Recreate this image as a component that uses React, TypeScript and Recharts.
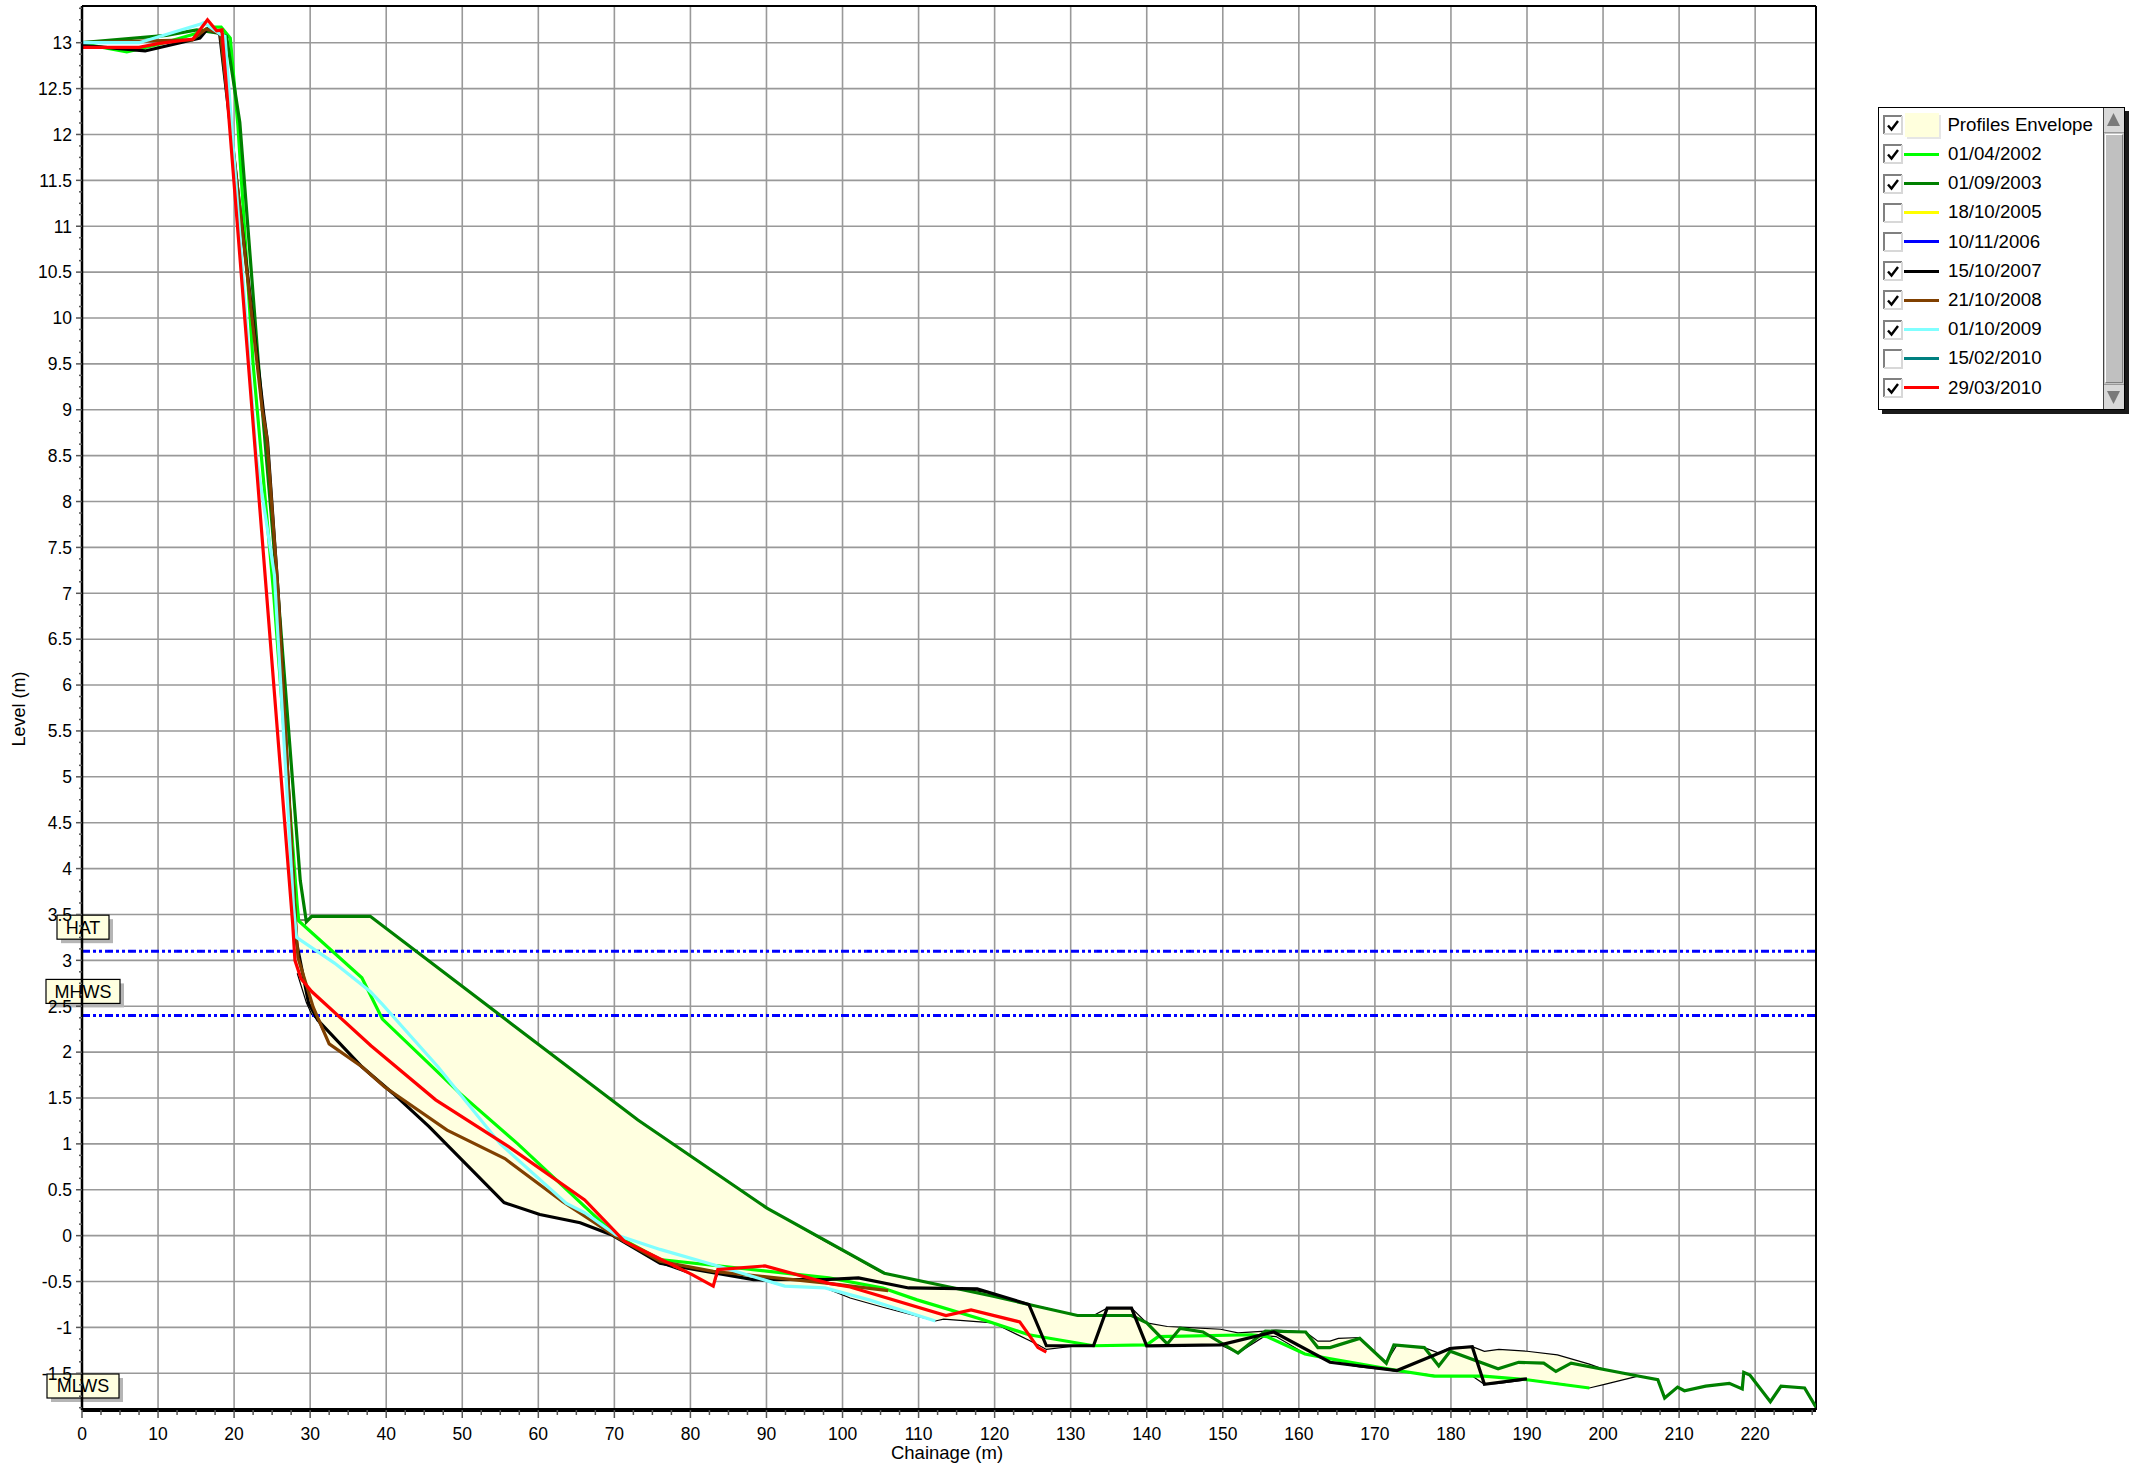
import React from 'react';
import { ComposedChart, Line, Area, XAxis, YAxis, CartesianGrid, ReferenceLine } from 'recharts';

const FONT = '"Liberation Sans", Arial, Helvetica, sans-serif';
const W = 2145;
const H = 1468;

// ---------- profile data (chainage m, level m) ----------
const chainage2002 = [0, 5.9, 10, 15, 17, 18.3, 19.5, 20.5, 22.5, 25.2, 28.3, 28.5, 36.8, 39.5, 49.7, 57.3, 70.2, 76, 98.2, 105.3, 109.8, 118.6, 124.5, 133, 140, 141.5, 153.8, 155.8, 160.8, 164, 173, 177.8, 184.3, 190, 198.2];
const level2002 = [12.99, 12.9, 12.98, 13.1, 13.17, 13.17, 13.05, 12.1, 9.5, 7.0, 3.6, 3.43, 2.81, 2.36, 1.55, 1.0, 0.0, -0.26, -0.46, -0.57, -0.7, -0.92, -1.08, -1.2, -1.19, -1.1, -1.08, -1.1, -1.29, -1.34, -1.47, -1.53, -1.53, -1.57, -1.66];

const chainage2003 = [0, 11.1, 15.1, 18.2, 19.0, 20.75, 23.2, 26.0, 28.7, 29.5, 30.2, 37.9, 73.1, 90.06, 105.5, 119.8, 124.5, 130.9, 138, 140, 142.7, 144.4, 147.4, 152, 155.6, 160.9, 162.5, 164.1, 168, 171.5, 172.5, 176.5, 178.4, 179.9, 186.2, 188.9, 192.2, 193.8, 195.8, 204.6, 207.2, 208.1, 209.8, 210.7, 213.5, 216.6, 218.3, 218.5, 219.3, 222, 223.4, 226.5, 228];
const level2003 = [13.0, 13.08, 13.14, 13.1, 13.07, 12.13, 9.5, 6.76, 3.87, 3.42, 3.48, 3.48, 1.26, 0.3, -0.41, -0.66, -0.75, -0.87, -0.87, -0.95, -1.18, -1.01, -1.05, -1.28, -1.04, -1.05, -1.22, -1.22, -1.12, -1.39, -1.19, -1.22, -1.42, -1.26, -1.45, -1.38, -1.39, -1.48, -1.39, -1.53, -1.57, -1.77, -1.65, -1.69, -1.64, -1.61, -1.67, -1.49, -1.52, -1.81, -1.64, -1.66, -1.87];

const chainage2007 = [0, 8.3, 15.5, 16.5, 18.1, 23.9, 24.4, 25.8, 28.2, 29.8, 31.0, 36.8, 40.9, 45.6, 55.5, 60.2, 65.5, 69.6, 76, 80.7, 88.3, 97.7, 102.1, 108.7, 117.7, 124.5, 126.8, 133, 134.8, 138, 140, 149.7, 156.7, 164.1, 172.9, 179.9, 182.8, 184.4, 190];
const level2007 = [12.97, 12.91, 13.05, 13.15, 13.1, 8.95, 8.65, 7.0, 3.2, 2.53, 2.35, 1.84, 1.55, 1.19, 0.36, 0.23, 0.14, 0.01, -0.3, -0.37, -0.48, -0.48, -0.46, -0.57, -0.58, -0.75, -1.2, -1.2, -0.79, -0.79, -1.2, -1.19, -1.05, -1.38, -1.47, -1.23, -1.21, -1.62, -1.56];

const chainage2008 = [0, 14.5, 16.3, 18.2, 23.7, 24.3, 25.8, 28.1, 28.4, 30.4, 32.5, 36.8, 39.8, 48, 55.6, 63.2, 70.2, 76, 83, 98.2, 106];
const level2008 = [13.0, 13.03, 13.15, 13.1, 9.0, 8.7, 7.0, 3.4, 3.03, 2.49, 2.09, 1.84, 1.62, 1.15, 0.84, 0.37, -0.01, -0.28, -0.39, -0.52, -0.6];

const chainage2009 = [0, 7.5, 15.5, 16.0, 18.2, 18.8, 22.9, 25.3, 27.8, 28.2, 33.2, 37.9, 39.5, 46.8, 55, 63.7, 66.1, 70.2, 76, 83.6, 92.4, 97.7, 103.5, 112.2];
const level2009 = [13.0, 13.0, 13.2, 13.22, 13.09, 13.07, 8.5, 7.2, 3.6, 3.25, 2.97, 2.66, 2.52, 1.84, 1.0, 0.35, 0.25, 0.01, -0.15, -0.33, -0.55, -0.57, -0.7, -0.93];

const chainage2010 = [0, 7.5, 10, 14.6, 16.5, 17.7, 18.4, 27.7, 28.0, 28.8, 30.2, 38, 46.5, 56.1, 66.1, 71.3, 80.1, 83, 83.6, 89.8, 98.2, 101, 113.6, 116.9, 123.3, 125.7, 126.8];
const level2010 = [12.95, 12.95, 12.99, 13.04, 13.25, 13.13, 13.14, 3.4, 3.0, 2.8, 2.66, 2.07, 1.48, 0.97, 0.39, -0.06, -0.42, -0.55, -0.37, -0.33, -0.52, -0.56, -0.87, -0.81, -0.94, -1.22, -1.27];

// ---------- profiles envelope ----------
const envChainage = [28.3, 29.5, 30.2, 31.0, 32.5, 36.8, 37.9, 40.9, 45.6, 55.5, 60.2, 65.5, 69.6, 73.1, 76, 80.1, 83, 83.6, 88.3, 90.1, 92.4, 97.7, 101, 105.3, 112.2, 113.3, 119.8, 124.5, 125.7, 126.8, 130.9, 133, 134.8, 138, 140, 142.7, 145, 149.7, 152, 155.6, 157, 160.9, 162.5, 164.1, 165.2, 168, 171.5, 172.9, 176.5, 178.4, 179.9, 182.8, 184.4, 186.3, 190, 194, 198.2, 200.2, 204.6];
const envHigh = [3.44, 3.44, 3.48, 3.48, 3.48, 3.48, 3.48, 3.29, 2.99, 2.37, 2.07, 1.74, 1.48, 1.26, 1.10, 0.86, 0.70, 0.67, 0.40, 0.30, 0.19, -0.06, -0.21, -0.41, -0.53, -0.55, -0.63, -0.75, -0.77, -0.79, -0.87, -0.87, -0.79, -0.79, -0.95, -0.99, -1.0, -1.02, -1.06, -1.04, -1.03, -1.05, -1.15, -1.15, -1.12, -1.11, -1.38, -1.19, -1.22, -1.28, -1.22, -1.21, -1.26, -1.24, -1.26, -1.30, -1.40, -1.46, -1.53];
const envLow = [2.86, 2.54, 2.41, 2.35, 2.09, 1.84, 1.75, 1.55, 1.19, 0.36, 0.23, 0.14, 0.01, -0.16, -0.30, -0.42, -0.55, -0.41, -0.48, -0.50, -0.55, -0.57, -0.68, -0.78, -0.93, -0.91, -0.95, -1.14, -1.19, -1.24, -1.2, -1.2, -1.2, -1.19, -1.2, -1.2, -1.19, -1.19, -1.28, -1.09, -1.1, -1.29, -1.32, -1.38, -1.39, -1.43, -1.46, -1.48, -1.51, -1.53, -1.53, -1.53, -1.62, -1.61, -1.57, -1.61, -1.66, -1.62, -1.53];

// ---------- tide levels ----------
const tideNames = ['HAT', 'MHWS', 'MLWS'];
const tideLevels = [3.1, 2.4, -1.9];
const tideBoxWidths = [52, 74, 72];

// ---------- legend ----------
const legendLabels = ['Profiles Envelope', '01/04/2002', '01/09/2003', '18/10/2005', '10/11/2006', '15/10/2007', '21/10/2008', '01/10/2009', '15/02/2010', '29/03/2010'];
const legendColors = ['#ffffdd', '#00ff00', '#008000', '#ffff00', '#0000ff', '#000000', '#804000', '#80ffff', '#008080', '#ff0000'];
const legendChecked = [true, true, true, false, false, true, true, true, false, true];

// ---------- axes ----------
const xMajorTicks = [0, 10, 20, 30, 40, 50, 60, 70, 80, 90, 100, 110, 120, 130, 140, 150, 160, 170, 180, 190, 200, 210, 220];
const yMajorTicks = [-1.5, -1, -0.5, 0, 0.5, 1, 1.5, 2, 2.5, 3, 3.5, 4, 4.5, 5, 5.5, 6, 6.5, 7, 7.5, 8, 8.5, 9, 9.5, 10, 10.5, 11, 11.5, 12, 12.5, 13];
const xDomain: [number, number] = [0, 228];
const yDomain: [number, number] = [-1.9, 13.4];

const xAllTicks: number[] = [];
for (let k = 0; k * 2.5 <= xDomain[1]; k++) xAllTicks.push(k * 2.5);
const yAllTicks: number[] = [];
for (let k = -15; k <= 107; k++) yAllTicks.push(k * 0.125);

const pts = (xs: number[], ys: number[]) => xs.map((x, i) => ({ x, y: ys[i] }));

const series = [
  { name: '01/04/2002', color: '#00ff00', data: pts(chainage2002, level2002) },
  { name: '01/09/2003', color: '#008000', data: pts(chainage2003, level2003) },
  { name: '15/10/2007', color: '#000000', data: pts(chainage2007, level2007) },
  { name: '21/10/2008', color: '#804000', data: pts(chainage2008, level2008) },
  { name: '01/10/2009', color: '#80ffff', data: pts(chainage2009, level2009) },
  { name: '29/03/2010', color: '#ff0000', data: pts(chainage2010, level2010) },
];

const envelopeData = envChainage.map((x, i) => ({ x, range: [envLow[i], envHigh[i]] }));

const isMajor = (v: number, step: number) => Math.abs(v / step - Math.round(v / step)) < 1e-6;

const YTick = (props: any) => {
  const { x, y, payload } = props;
  const v = payload.value as number;
  const major = isMajor(v, 0.5);
  return (
    <g>
      <line x1={x - (major ? 6 : 3)} x2={x} y1={y} y2={y} stroke="#555" strokeWidth={1.5} />
      {major && (
        <text x={x - 10} y={y} dy="0.36em" textAnchor="end" fontSize={17.5} fontFamily={FONT} fill="#000">
          {String(v)}
        </text>
      )}
    </g>
  );
};

const XTick = (props: any) => {
  const { x, y, payload } = props;
  const v = payload.value as number;
  const major = isMajor(v, 10);
  return (
    <g>
      <line x1={x} x2={x} y1={y} y2={y + (major ? 8 : 5)} stroke="#555" strokeWidth={1.5} />
      {major && (
        <text x={x} y={y + 30} textAnchor="middle" fontSize={17.5} fontFamily={FONT} fill="#000">
          {String(v)}
        </text>
      )}
    </g>
  );
};

const TideLabel = (props: any) => {
  const { viewBox, text, w } = props;
  if (!viewBox) return null;
  const cx = viewBox.x + 1;
  const cy = viewBox.y - 24;
  return (
    <g>
      <rect x={cx - w / 2 + 4} y={cy - 12 + 4} width={w} height={24} fill="#b5b5b5" />
      <rect x={cx - w / 2} y={cy - 12} width={w} height={24} fill="#ffffe0" stroke="#000" strokeWidth={1.2} />
      <text x={cx} y={cy} dy="0.36em" textAnchor="middle" fontSize={18} fontFamily={FONT} fill="#000">
        {text}
      </text>
    </g>
  );
};

const CheckBox = ({ checked }: { checked: boolean }) => (
  <svg width={20} height={20} style={{ display: 'block', flex: 'none' }}>
    <rect x={0} y={0} width={20} height={20} fill="#fff" />
    <path d="M1 19 V1 H19" stroke="#808080" strokeWidth={2} fill="none" />
    <path d="M1 19 H19 V1" stroke="#d8d8d8" strokeWidth={2} fill="none" />
    {checked && <path d="M5 10.5 L8.5 14.5 L15 6" stroke="#000" strokeWidth={2.4} fill="none" />}
  </svg>
);

const Scrollbar = () => (
  <div style={{ position: 'absolute', right: 0, top: 0, bottom: 0, width: 20, borderLeft: '1px solid #444', background: '#c4c4c4' }}>
    <div style={{ position: 'absolute', left: 0, right: 0, top: 0, height: 24, background: '#d8d8d8', borderBottom: '1px solid #999' }}>
      <svg width={19} height={24} style={{ display: 'block' }}>
        <path d="M3 18 L9.5 5 L16 18 Z" fill="#7a7a7a" />
      </svg>
    </div>
    <div style={{ position: 'absolute', left: 1, right: 1, top: 26, bottom: 26, background: '#c0c0c0', borderTop: '1px solid #fff', borderLeft: '1px solid #fff', borderRight: '1px solid #808080', borderBottom: '1px solid #808080' }} />
    <div style={{ position: 'absolute', left: 0, right: 0, bottom: 0, height: 24, background: '#d8d8d8', borderTop: '1px solid #999' }}>
      <svg width={19} height={24} style={{ display: 'block' }}>
        <path d="M3 6 L9.5 19 L16 6 Z" fill="#7a7a7a" />
      </svg>
    </div>
  </div>
);

const LegendBox = () => (
  <div
    style={{
      position: 'absolute', left: 1878, top: 107, width: 247, height: 303, boxSizing: 'border-box',
      border: '1.5px solid #000', background: '#fff', boxShadow: '4px 4px 0 #1a1a1a', fontFamily: FONT,
    }}
  >
    {legendLabels.map((label, i) => (
      <div key={label} style={{ position: 'absolute', left: 4, top: 2.6 + i * 29.2, height: 29.2, display: 'flex', alignItems: 'center' }}>
        <CheckBox checked={legendChecked[i]} />
        {i === 0 ? (
          <div style={{ width: 34, height: 24, marginLeft: 2.4, background: legendColors[i], boxShadow: '2px 2px 0 #e6e6e6', flex: 'none' }} />
        ) : (
          <div style={{ width: 35, height: 3, marginLeft: 1, background: legendColors[i], flex: 'none' }} />
        )}
        <span style={{ marginLeft: i === 0 ? 8 : 9, fontSize: 18.7, color: '#000', whiteSpace: 'nowrap', lineHeight: 1 }}>{label}</span>
      </div>
    ))}
    <Scrollbar />
  </div>
);

export default function App() {
  return (
    <div style={{ position: 'absolute', left: 0, top: 0, width: W, height: H, background: '#fff', fontFamily: FONT }}>
      <ComposedChart width={W} height={H} margin={{ top: 6, right: 329, bottom: 0, left: 0 }}>
        <CartesianGrid stroke="#999" strokeWidth={1.6} horizontalValues={yMajorTicks} verticalValues={xMajorTicks} />
        <XAxis
          type="number"
          dataKey="x"
          domain={xDomain}
          allowDataOverflow
          ticks={xAllTicks}
          interval={0}
          height={58}
          tickSize={0}
          tickMargin={0}
          tickLine={false}
          axisLine={{ stroke: '#000', strokeWidth: 4 }}
          tick={(p: any) => <XTick {...p} />}
        />
        <YAxis
          type="number"
          dataKey="y"
          domain={yDomain}
          allowDataOverflow
          ticks={yAllTicks}
          interval={0}
          width={82}
          tickSize={0}
          tickMargin={0}
          tickLine={false}
          axisLine={{ stroke: '#000', strokeWidth: 2.5 }}
          tick={(p: any) => <YTick {...p} />}
        />
        <ReferenceLine y={yDomain[1]} stroke="#000" strokeWidth={2} />
        <ReferenceLine x={xDomain[1]} stroke="#000" strokeWidth={2} />
        <Area
          data={envelopeData}
          dataKey="range"
          type="linear"
          fill="#ffffe0"
          fillOpacity={1}
          stroke="#000"
          strokeWidth={1.2}
          dot={false}
          activeDot={false}
          isAnimationActive={false}
        />
        {tideNames.map((name, i) => (
          <ReferenceLine
            key={name}
            y={tideLevels[i]}
            stroke={name === 'MLWS' ? 'none' : '#0000ff'}
            strokeWidth={3}
            strokeDasharray="8 3 3 3 3 3"
            label={<TideLabel text={name} w={tideBoxWidths[i]} />}
          />
        ))}
        {series.map((s) => (
          <Line
            key={s.name}
            data={s.data}
            dataKey="y"
            type="linear"
            stroke={s.color}
            strokeWidth={3.2}
            dot={false}
            activeDot={false}
            isAnimationActive={false}
          />
        ))}
      </ComposedChart>
      <div style={{ position: 'absolute', left: 19, top: 709, transform: 'translate(-50%, -50%) rotate(-90deg)', fontSize: 18, whiteSpace: 'nowrap', color: '#000' }}>
        Level (m)
      </div>
      <div style={{ position: 'absolute', left: 947, top: 1453, transform: 'translate(-50%, -50%)', fontSize: 18.5, whiteSpace: 'nowrap', color: '#000' }}>
        Chainage (m)
      </div>
      <LegendBox />
    </div>
  );
}
